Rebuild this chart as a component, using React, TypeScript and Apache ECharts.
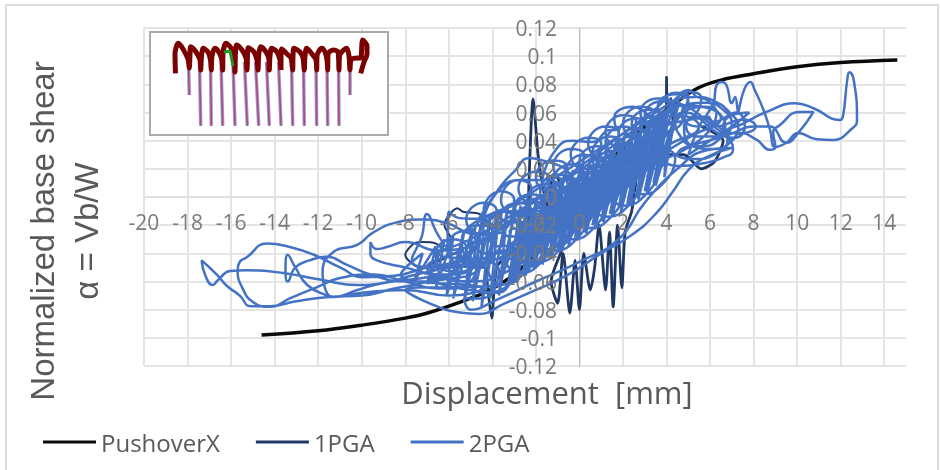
import React, { useEffect, useRef } from "react";
import * as echarts from "echarts";

const xTicks = { min: -20, max: 15, step: 2 };
const yTicks = { min: -0.12, max: 0.12, step: 0.02 };
const legendNames = ["PushoverX", "1PGA", "2PGA"];

const pushoverX = [[-14.6,-.098],[-12,-.095],[-10,-.091],[-8,-.086],[-6.9,-.082],[-5.2,-.073],[-4.1,-.066],[-3,-.055],[-2,-.04],[-1,-.02],[0,0],[1,.018],[2,.035],[3,.05],[4,.062],[5.4,.077],[6.5,.083],[8,.0875],[10,.0925],[12,.0955],[14.6,.0973]];

const darkLoops = [[-3.8,-.03],[-4.6,-.012],[-5.35,-.0105],[-5.6,-.008],[-6.2,-.02],[-5.9,-.03],[-6.2,-.0375],[-6.6,-.033],[-7.2,-.032],[-7.6,-.033],[-8,-.041],[-7.3,-.05],[-6.4,-.045],[-5.6,-.04],[-5,-.05],[-4.3,-.05]];
const darkSpikes = [[-4.3,-.05],[-4.03,-.086],[-3.8,-.05],[-3.2,-.04],[-2.4,-.03],[-2.32,.01],[-2.13,.0696],[-1.9,.03],[-1.68,.007],[-1.45,-.007],[-1.2,.016],[-.95,.012],[-.7,-.03],[-1.3,-.06],[-1,-.0755],[-.75,-.04],[-.44,-.0825],[-.2,-.045],[0,-.08],[.2,-.04],[.5,-.066],[.7,-.05],[.9,-.02],[1.2,-.066],[1.38,-.025],[1.55,-.078],[1.75,-.02],[1.95,-.0645],[2.1,-.025],[2.4,-.01],[3,.04],[3.6,.04],[4,.062],[4,.085],[4.05,.06],[4.2,.07],[4.3,.05],[3.8,.03],[4.8,.03],[5.6,.02],[6.2,.025],[6.6,.04],[5.6,.05]];

const farLeftA = [[-4.5,-.045],[-6,-.05],[-7.5,-.055],[-9,-.061],[-10.2,-.0625],[-11.8,-.059],[-13.6,-.054],[-15.3,-.052],[-16.05,-.0525],[-16.6,-.059],[-16.85,-.0625],[-17.2,-.055],[-17.35,-.045],[-17,-.05],[-16.6,-.056],[-16.2,-.063],[-15.6,-.07],[-15.1,-.0775],[-14.2,-.0775],[-13,-.074],[-11.5,-.071],[-10,-.07],[-8.5,-.065],[-7,-.06],[-5.5,-.05]];
const farLeftB = [[-5,-.045],[-7,-.05],[-8.5,-.056],[-9.9,-.057],[-11,-.05],[-12.2,-.041],[-13.3,-.0355],[-14.35,-.033],[-15.3,-.043],[-15.6,-.046],[-15.7,-.052],[-15.5,-.064],[-15,-.0745],[-14.2,-.078],[-13.3,-.072],[-12.05,-.064],[-11,-.0575],[-9.5,-.055],[-8,-.06],[-6.5,-.065],[-5,-.06]];
const farLeftC = [[-5,-.05],[-7,-.057],[-9,-.061],[-10.2,-.066],[-11.3,-.071],[-11.6,-.07],[-12.5,-.0625],[-13.05,-.05],[-13.4,-.041],[-13.5,-.052],[-13.4,-.06],[-13.05,-.05],[-12.4,-.045],[-11.6,-.0425],[-10.7,-.048],[-9.6,-.055],[-8,-.06],[-6,-.058],[-4.5,-.05]];
const farLeftD = [[-4,-.03],[-5.2,-.025],[-6.1,-.0185],[-7.3,-.016],[-8.4,-.018],[-9.5,-.0255],[-10.2,-.034],[-11.3,-.039],[-11.8,-.054],[-11.7,-.064],[-11.3,-.071],[-10,-.068],[-8,-.066],[-6,-.07],[-4.5,-.065]];
const notch = [[-4.8,-.035],[-6.5,-.038],[-8,-.032],[-8.85,-.0355],[-9.3,-.037],[-9.6,-.032],[-9.6,-.04],[-9.3,-.045],[-8,-.05],[-6.5,-.055],[-5,-.05]];
const leftPeaks = [[-4.4,-.016],[-5.5,-.015],[-6,-.0105],[-6.1,-.0355],[-6.55,-.0255],[-7,-.012],[-7.25,-.0285],[-7.7,-.045],[-6.5,-.05],[-5,-.04]];
const leftMass = [[-8.2,-.055],[-7.2,-.04],[-7.6,-.06],[-6.6,-.035],[-7,-.062],[-6.2,-.03],[-6.6,-.065],[-5.8,-.028],[-6.1,-.07],[-5.3,-.025],[-5.8,-.072],[-4.9,-.022],[-5.3,-.075],[-4.5,-.018],[-4.9,-.074],[-4.1,-.015],[-4.5,-.078],[-3.7,-.012],[-4.1,-.072],[-3.3,-.008],[-3.7,-.07],[-2.9,-.004]];
const lowerArcs = [[-8,-.066],[-6.8,-.076],[-5.5,-.082],[-4.6,-.083],[-3.5,-.076],[-2,-.066],[-.5,-.055],[1,-.04],[2.4,-.027],[3.5,-.012],[4.3,.004],[5,.019],[5.8,.028],[7,.035],[5.8,.033],[4.5,.02],[3,-.004],[1.8,-.03],[0,-.046],[-2,-.06],[-3.8,-.073],[-5,-.08]];
const upperArcs = [[-4.5,-.02],[-3.8,.003],[-2.7,.012],[-1.45,.012],[-.6,.004],[0,-.005],[-1,-.01],[-3,-.01],[-4.6,-.015],[-3.6,.008],[-3,.018],[-2.3,.0277],[-1.7,.026],[-.75,.021],[0,.012],[.6,.012],[-.5,.005],[-1.7,.01],[-.9,.037],[-.3,.04],[.6,.039],[1.4,.0476],[1.7,.0476],[1.6,.056],[2.45,.064],[3,.0604],[3.4,.0547],[4.15,.0632],[5,.076],[5.4,.071],[5.85,.069],[6.3,.06]];
const denseA = [[-3.6,-.058],[-2.6,-.018],[-3.1,-.05],[-2.1,-.012],[-2.7,-.046],[-1.7,-.006],[-2.3,-.044],[-1.3,-.002],[-1.9,-.04],[-.9,.004],[-1.5,-.036],[-.5,.008],[-1.1,-.032],[-.1,.012],[-.7,-.028],[.3,.018],[-.3,-.024],[.7,.022],[.1,-.02],[1.1,.026],[.5,-.016],[1.5,.032],[.9,-.01],[1.9,.036],[1.3,-.006],[2.3,.04],[1.7,-.002],[2.7,.046],[2.1,.004],[3.1,.05],[2.5,.008],[3.5,.054],[2.9,.014],[3.9,.058],[3.3,.02],[4.3,.062]];
const denseB = [[4.6,.068],[3.5,.008],[4.1,.064],[3.1,.002],[3.7,.06],[2.7,-.002],[3.3,.057],[2.3,-.006],[2.9,.052],[1.9,-.011],[2.5,.049],[1.5,-.014],[2.1,.045],[1.1,-.018],[1.7,.04],[.7,-.023],[1.3,.036],[.3,-.026],[.9,.031],[-.1,-.031],[.5,.027],[-.5,-.035],[.1,.024],[-.9,-.039],[-.3,.019],[-1.3,-.044],[-.7,.015],[-1.7,-.048],[-1.1,.011],[-2.1,-.052],[-1.5,.007],[-2.5,-.056],[-1.9,.002],[-2.9,-.06],[-2.3,-.002],[-3.3,-.064],[-2.7,-.006],[-3.7,-.068]];
const denseD = [[4.9,.06],[3.9,.014],[4.4,.058],[3.4,.01],[4,.055],[3,.004],[3.6,.05],[2.6,0],[3.2,.047],[2.2,-.005],[2.8,.044],[1.8,-.008],[2.4,.04],[1.4,-.012],[2,.036],[1,-.017],[1.6,.032],[.6,-.02],[1.2,.028],[.2,-.025],[.8,.024],[-.2,-.029],[.4,.02],[-.6,-.033],[0,.016],[-1,-.037],[-.4,.012],[-1.4,-.042],[-.8,.008],[-1.8,-.046],[-1.2,.004],[-2.2,-.05],[-1.6,0],[-2.6,-.054],[-2,-.004],[-3,-.058],[-2.4,-.01],[-3.4,-.062]];
const bandLoops = [[-6,-.05],[-4,-.045],[-2,-.03],[0,-.012],[2,.012],[4,.036],[5.5,.05],[4.5,.058],[2.5,.042],[.5,.02],[-1.5,-.002],[-3.5,-.022],[-5.5,-.038],[-7,-.05],[-5,-.06],[-3,-.05],[-1,-.025],[1,-.002],[3,.022],[5,.042],[6.5,.056],[5,.065],[3,.052],[1,.03],[-1,.008],[-3,-.012],[-5,-.03],[-6.5,-.04]];
const loopsLow = [[-5.3,-.072],[-4.5,-.072],[-3.7,-.052],[-4.3,-.046],[-5.1,-.058],[-4.4,-.068],[-3.6,-.066],[-2.8,-.044],[-3.4,-.038],[-4.2,-.05],[-3.6,-.062],[-2.8,-.058],[-2,-.036],[-2.6,-.03],[-3.4,-.042],[-2.8,-.054],[-2,-.05],[-1.2,-.028],[-1.8,-.022],[-2.6,-.034],[-2,-.046],[-1.2,-.042],[-.4,-.02],[-1,-.014],[-1.8,-.026],[-1.2,-.038],[-.4,-.034],[.4,-.012],[-.2,-.006],[-1,-.018],[-.4,-.03],[.4,-.026],[1.2,-.004],[.6,.002],[-.2,-.01],[.4,-.022],[1.2,-.018],[2,.004],[1.4,.01],[.6,-.002],[1.2,-.014],[2,-.01],[2.8,.012],[2.2,.018],[1.4,.006],[2,-.006],[2.8,-.002],[3.6,.02],[3,.026],[2.2,.014],[2.8,.002],[3.6,.006],[4.4,.028],[3.8,.034],[3,.022]];
const loopsHigh = [[-5.4,-.03],[-4.6,-.032],[-3.8,-.01],[-4.4,-.004],[-5.2,-.016],[-4.6,-.026],[-3.8,-.026],[-3,-.002],[-3.6,.004],[-4.4,-.01],[-3.8,-.02],[-3,-.018],[-2.2,.006],[-2.8,.012],[-3.6,-.002],[-3,-.012],[-2.2,-.01],[-1.4,.014],[-2,.018],[-2.8,.006],[-2.2,-.004],[-1.4,-.002],[-.6,.022],[-1.2,.026],[-2,.014],[-1.4,.004],[-.6,.006],[.2,.03],[-.4,.034],[-1.2,.022],[-.6,.012],[.2,.014],[1,.038],[.4,.042],[-.4,.03],[.2,.02],[1,.022],[1.8,.046],[1.2,.05],[.4,.038],[1,.028],[1.8,.03],[2.6,.054],[2,.058],[1.2,.046],[1.8,.036],[2.6,.038],[3.4,.06],[2.8,.064],[2,.052],[2.6,.042],[3.4,.046],[4.2,.068],[3.6,.07],[2.8,.06],[3.4,.05],[4.2,.052],[5,.072],[4.4,.074],[3.6,.064]];
const loopsMid = [[-6.8,-.058],[-6,-.056],[-5.2,-.036],[-5.8,-.03],[-6.6,-.04],[-6.2,-.052],[-5.4,-.053],[-4.6,-.03],[-5.2,-.024],[-6,-.034],[-5.6,-.048],[-4.8,-.05],[-4,-.024],[-4.6,-.02],[-5.4,-.03],[-5,-.044],[-4.2,-.043],[-3.4,-.02],[-4,-.014],[-4.8,-.024],[-4.4,-.04],[-3.6,-.04],[-2.8,-.016],[-3.4,-.01],[-4.2,-.02],[-3.8,-.035],[-3,-.034],[-2.2,-.01],[-2.8,-.004],[-3.6,-.014],[-3.2,-.028],[-2.4,-.026],[-1.6,-.004],[-2.2,.002],[-3,-.008],[-2.6,-.022],[-1.8,-.02],[-1,.003],[-1.6,.009],[-2.4,-.002],[-2,-.016],[-1.2,-.015],[-.4,.01],[-1,.016],[-1.8,.004],[-1.4,-.01],[-.6,-.008],[.2,.017],[-.4,.023],[-1.2,.011],[-.8,-.003],[0,-.002],[.8,.024],[.2,.03],[-.6,.018],[-.2,.004],[.6,.005],[1.4,.03],[.8,.036],[0,.025],[.4,.011],[1.2,.012],[2,.037],[1.4,.043],[.6,.031],[1,.018],[1.8,.019],[2.6,.044],[2,.05],[1.2,.038],[1.6,.025],[2.4,.026],[3.2,.05],[2.6,.056],[1.8,.045],[2.2,.032],[3,.033],[3.8,.057],[3.2,.062],[2.4,.052],[2.8,.039],[3.6,.04],[4.4,.063],[3.8,.068],[3,.058],[3.4,.046],[4.2,.047],[5,.068],[4.4,.073],[3.6,.064],[4,.053],[4.8,.054],[5.6,.07],[5,.075],[4.2,.067]];
const loopsCoreA = [[-3.5,-.044],[-2.6,-.038],[-2.4,-.022],[-3.2,-.024],[-3.1,-.039],[-2.2,-.033],[-2,-.017],[-2.8,-.019],[-2.7,-.034],[-1.8,-.028],[-1.6,-.012],[-2.4,-.014],[-2.3,-.029],[-1.4,-.023],[-1.2,-.007],[-2,-.009],[-1.9,-.024],[-1,-.018],[-.8,-.002],[-1.6,-.004],[-1.5,-.019],[-.6,-.013],[-.4,.003],[-1.2,.001],[-1.1,-.014],[-.2,-.008],[0,.008],[-.8,.006],[-.7,-.009],[.2,-.003],[.4,.013],[-.4,.011],[-.3,-.004],[.6,.002],[.8,.018],[0,.016],[.1,.001],[1,.007],[1.2,.023],[.4,.021],[.5,.006],[1.4,.012],[1.6,.028],[.8,.026],[.9,.011],[1.8,.017],[2,.033],[1.2,.031],[1.3,.016],[2.2,.022],[2.4,.038],[1.6,.036],[1.7,.021],[2.6,.027],[2.8,.043],[2,.041],[2.1,.026],[3,.032],[3.2,.048],[2.4,.046],[2.5,.031],[3.4,.037],[3.6,.053],[2.8,.051],[2.9,.036],[3.8,.042],[4,.058],[3.2,.056]];
const loopsCoreB = [[3.6,.02],[4.1,.036],[3.3,.034],[3.2,.019],[3.1,.014],[3.7,.03],[2.9,.028],[2.8,.013],[2.7,.009],[3.3,.025],[2.5,.023],[2.4,.008],[2.3,.004],[2.9,.02],[2.1,.018],[2,.003],[1.9,-.001],[2.5,.015],[1.7,.013],[1.6,-.002],[1.5,-.006],[2.1,.01],[1.3,.008],[1.2,-.007],[1.1,-.011],[1.7,.005],[.9,.003],[.8,-.012],[.7,-.016],[1.3,0],[.5,-.002],[.4,-.017],[.3,-.021],[.9,-.005],[.1,-.007],[0,-.022],[-.1,-.026],[.5,-.01],[-.3,-.012],[-.4,-.027],[-.5,-.031],[.1,-.015],[-.7,-.017],[-.8,-.032],[-.9,-.036],[-.3,-.02],[-1.1,-.022],[-1.2,-.037],[-1.3,-.041],[-.7,-.025],[-1.5,-.027],[-1.6,-.042],[-1.7,-.046],[-1.1,-.03],[-1.9,-.032],[-2,-.047],[-2.1,-.051],[-1.5,-.035],[-2.3,-.037],[-2.4,-.052],[-2.5,-.056],[-1.9,-.04],[-2.7,-.042],[-2.8,-.057],[-2.9,-.061],[-2.3,-.045],[-3.1,-.047],[-3.2,-.062]];
const rightCircles = [[3.8,.03],[4.6,.022],[5.7,.024],[6.6,.028],[7.05,.0334],[6.9,.0405],[6,.052],[5.2,.062],[4.5,.068],[5.4,.071],[6.2,.068],[6.9,.06],[7.3,.05],[7,.04],[6.2,.034],[5.2,.036],[4.6,.044],[4.4,.054],[5,.062],[5.8,.064],[6.5,.058],[6.7,.05],[6.2,.043],[5.4,.043],[4.9,.05],[5.2,.057],[5.9,.057],[6.2,.05],[7.6,.055],[8.1,.05],[7.3,.045],[6.6,.05],[7,.058],[7.8,.06],[7,.05],[6,.04],[5,.03]];
const rightCirclesB = [[4.5,.03],[5.3,.027],[6.2,.03],[6.8,.04],[6.4,.05],[5.6,.056],[4.8,.05],[4.9,.04],[5.7,.036],[6.5,.042],[7,.052],[6.6,.062],[5.8,.067],[5,.066],[4.7,.058],[5.5,.05],[6.4,.054],[7.2,.06],[7.6,.05],[7.1,.042]];
const rightTailA = [[5.5,.05],[6.15,.0667],[6.3,.0795],[6.55,.0817],[6.75,.0795],[7,.0667],[7.15,.071],[7.3,.06],[7.35,.064],[7.6,.0774],[7.85,.0817],[8.05,.076],[8.45,.062],[8.75,.048],[9,.0355],[9.5,.0385],[10.05,.0455],[10.9,.041],[11.65,.0405],[12.55,.049],[12.75,.0547],[12.6,.083],[12.4,.0885],[12.3,.083],[12.1,.057],[11.95,.0547],[10.75,.063],[9.9,.0665],[8.6,.0604],[7.5,.052],[6.8,.046]];
const rightTailB = [[7,.04],[7.35,.0455],[8.15,.0405],[8.75,.0335],[9,.0355],[8.9,.046],[9.2,.051],[10.1,.0604],[10.75,.0604],[10.05,.0455],[9.5,.0385],[8.75,.05],[8,.05],[7,.045]];

const twoPgaPieces = [farLeftA, notch, farLeftB, leftPeaks, farLeftC, farLeftD, leftMass, denseA, rightCircles, rightTailA, rightTailB, rightCirclesB, denseD, lowerArcs, loopsLow, loopsCoreB, denseB, loopsMid, upperArcs, loopsHigh, bandLoops, loopsCoreA];

const insetWave = [[25.5,41.3],[25,22],[28.3,11.3],[33,17],[38,27],[39.3,36],[40,22],[40.7,14.7],[46,20],[50,28],[50.7,38],[51.5,24],[53.3,16.3],[58,20],[60.5,28],[61.3,38],[62,24],[65,16.3],[70,22],[72.2,30],[72.7,38],[73,22],[76,11.3],[81,16],[84.5,26],[85,40],[85.5,20],[86.7,13],[92,18],[96,26],[97,38],[97.5,24],[98.3,15.7],[104,20],[107,28],[108,38],[108.8,22],[110.7,14.7],[116,20],[119,28],[119.3,38],[120,24],[121.7,16.3],[127,20],[130,28],[131,38],[131,24],[131.7,17],[137,22],[141,26],[142.7,38],[143,24],[144,16.3],[150,20],[153,26],[154.3,38],[155,24],[156.7,16.3],[162,22],[166,28],[166.7,38],[167,24],[171.7,16.3],[175,20],[177,28],[177.7,38],[178,22],[183.3,18],[188,20],[189,38],[189.5,24],[196.7,16.3],[199,24],[200,38],[201,28],[208,26],[210.7,26],[212.7,8],[217,14],[217,22],[214,30],[210.7,41.3]];
const insetSpikeBottomX = [39.3,50.7,61.3,72.7,85,97.3,108.7,119.3,131,142.7,154.3,166.7,177.7,189,200];
const insetSpikeTopX = [38.5,49.5,60.5,71,83,94.5,105.5,116.5,128.5,141.5,153.5,166,177,188.5,200];
const insetSpikeEnd = [63,93.7,93.7,93.7,93.7,93.7,93.7,93.7,93.7,93.7,93.7,93.7,93.7,93.7,63];
const insetGreen = [[74,20],[80,19],[83,34]];

const spikeData = () => {
  const out: any[] = [];
  insetSpikeBottomX.forEach((x, i) => {
    out.push([insetSpikeTopX[i], 30], [x, insetSpikeEnd[i]], ["-", "-"]);
  });
  return out;
};

const tickFont = { fontFamily: "Open Sans", fontSize: 21, color: "#7a7a7a" };
const gridLine = { show: true, lineStyle: { color: "#e4e4e4", width: 2 } };

export default function App() {
  const ref = useRef<HTMLDivElement>(null);
  useEffect(() => {
    const chart = echarts.init(ref.current!, null, { renderer: "svg" });
    const line = (name: string, data: any[], color: string, width: number, smooth: number, z = 2) => ({
      type: "line", name, data, smooth, z, symbol: "none", silent: true, clip: false,
      lineStyle: { color, width }, itemStyle: { color }, xAxisIndex: 0, yAxisIndex: 0,
    });
    const inset = (name: string, data: any[], color: string, width: number, smooth: number, z: number) => ({
      ...line(name, data, color, width, smooth, z), xAxisIndex: 2, yAxisIndex: 2,
    });
    chart.setOption({
      animation: false,
      backgroundColor: "#ffffff",
      grid: [
        { left: 144, right: 34, top: 28, bottom: 104, outerBoundsMode: "none", containLabel: false },
        { left: 150, top: 32, width: 238, height: 103, outerBoundsMode: "none", containLabel: false },
      ],
      legend: {
        data: legendNames, left: 43, top: 430, padding: 0, itemWidth: 53, itemHeight: 3, itemGap: 36, icon: "rect",
        textStyle: { fontFamily: "Open Sans", fontSize: 24, color: "#595959" },
      },
      graphic: [
        { type: "rect", silent: true, z: -1, shape: { x: 6, y: 5, width: 932, height: 480 }, style: { fill: "none", stroke: "#dcdcdc", lineWidth: 2 } },
        { type: "rect", silent: true, z: 1, shape: { x: 150, y: 32, width: 238, height: 103 }, style: { fill: "#ffffff", stroke: "#ababab", lineWidth: 2 } },
      ],
      xAxis: [
        { type: "value", gridIndex: 0, min: xTicks.min, max: xTicks.max, interval: xTicks.step, z: 0,
          axisLabel: { show: false }, axisTick: { show: false },
          axisLine: { show: true, onZero: true, lineStyle: { color: "#dedede", width: 1 } },
          splitLine: { ...gridLine, showMaxLine: false } },
        { type: "value", gridIndex: 0, min: xTicks.min, max: xTicks.max, interval: xTicks.step, z: 10,
          position: "bottom", name: "Displacement  [mm]", nameLocation: "middle", nameGap: 10,
          nameTextStyle: { fontFamily: "Open Sans", fontSize: 31, color: "#595959", padding: [0, 0, 0, 44] },
          axisLabel: { ...tickFont, margin: -155, showMaxLabel: false }, axisTick: { show: false },
          axisLine: { show: false }, splitLine: { show: false } },
        { type: "value", gridIndex: 1, min: 0, max: 238, show: false },
      ],
      yAxis: [
        { type: "value", gridIndex: 0, min: yTicks.min, max: yTicks.max, interval: yTicks.step, z: 0,
          axisLabel: { show: false }, axisTick: { show: false },
          axisLine: { show: true, onZero: true, lineStyle: { color: "#bdbdbd", width: 1 } }, splitLine: gridLine },
        { type: "value", gridIndex: 0, min: yTicks.min, max: yTicks.max, interval: yTicks.step, z: 10,
          position: "left", name: "Normalized base shear\nα = Vb/W", nameLocation: "middle", nameRotate: 90, nameGap: 36,
          nameTextStyle: { fontFamily: "Liberation Sans", fontSize: 33, lineHeight: 44, color: "#595959", padding: [0, 68, 0, 0] },
          axisLabel: { ...tickFont, margin: -413 }, axisTick: { show: false },
          axisLine: { show: false }, splitLine: { show: false } },
        { type: "value", gridIndex: 1, min: 0, max: 103, inverse: true, show: false },
      ],
      series: [
        line("PushoverX", pushoverX, "#0a0a0a", 3.5, 0.4),
        line("1PGA", darkLoops, "#203864", 2, 0.3, 3),
        line("1PGA", darkSpikes, "#203864", 2.8, 0.25, 3),
        line("2PGA", twoPgaPieces.flat(), "#4472c4", 2.5, 0.5, 4),
        inset("Inset halo", spikeData(), "#9a9ae0", 3.5, 0, 5),
        inset("Inset spikes", spikeData(), "#b04f68", 1.6, 0, 6),
        inset("Inset wave", insetWave, "#7b0000", 5, 0.3, 7),
        inset("Inset green", insetGreen, "#1c9a1c", 3, 0, 8),
      ],
    });
    return () => chart.dispose();
  }, []);
  return <div ref={ref} style={{ position: "absolute", left: 0, top: 0, width: 940, height: 470, filter: "blur(0.5px)" }} />;
}
